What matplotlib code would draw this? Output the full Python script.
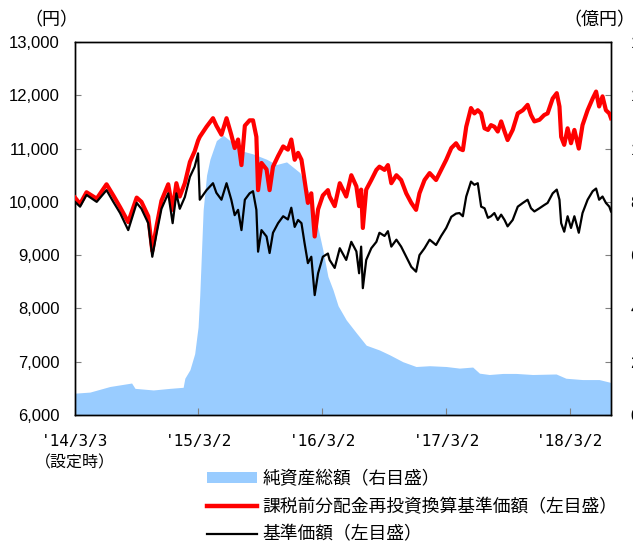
import numpy as np
import pandas as pd
import matplotlib
matplotlib.use('Agg')
import matplotlib.pyplot as plt
from matplotlib.patches import Patch
from matplotlib.lines import Line2D

plt.rcParams['font.family'] = ['Noto Sans CJK JP', 'DejaVu Sans']

# ---------------- data ----------------
launch = '2014-03-03'

# elapsed days since launch for the price series
nav_days = [0, 15, 34, 64, 93, 113, 133, 157, 182, 196, 216, 228, 241, 255, 275, 288, 299, 309, 324, 339, 353, 363,
            368, 388, 407, 417, 432, 447, 461, 471, 481, 491, 501, 515, 525, 535, 540, 550, 565, 574, 584, 599, 614,
            628, 638, 648, 658, 668, 677, 687, 697, 707, 717, 731, 746,
            751, 766, 781, 800, 815, 830, 838, 844, 849, 859, 874, 889, 898, 913, 923, 933, 948, 962, 977, 992, 1006,
            1016, 1031, 1046, 1065, 1080, 1095, 1110, 1124,
            1134, 1144, 1154, 1168, 1178, 1188, 1198, 1208, 1218, 1227, 1237, 1247, 1257, 1267, 1276, 1291, 1306, 1321,
            1335, 1345, 1355, 1370, 1384, 1394, 1409, 1421, 1429, 1434, 1443, 1453, 1463, 1473, 1486, 1497, 1512, 1527,
            1537, 1546, 1556, 1566, 1576, 1581]

# 基準価額 (yen)
nav = [10000, 9910, 10130, 10000, 10220, 10000, 9790, 9470, 9980, 9870, 9600, 8970, 9420, 9870, 10160, 9600, 10160,
       9870, 10090, 10470, 10660, 10910,
       10040, 10220, 10350, 10170, 10040, 10350, 10040, 9750, 9850, 9470, 10040, 10160, 10200, 9850, 9065, 9470, 9350,
       9040, 9420, 9600, 9730, 9670, 9890, 9530, 9660, 9600, 9230, 8850, 8970, 8250, 8660, 8970, 9030,
       8910, 8760, 9130, 8910, 9250, 9070, 8660, 9160, 8380, 8910, 9130, 9250, 9420, 9360, 9450, 9160, 9290, 9160,
       8970, 8780, 8690, 9000, 9130, 9290, 9190, 9360, 9510, 9720, 9780,
       9790, 9730, 10100, 10380, 10320, 10350, 9910, 9880, 9700, 9730, 9790, 9660, 9760, 9660, 9540, 9660, 9910, 9980,
       10040, 9880, 9820, 9880, 9940, 9980, 10160, 10230, 10040, 9600, 9440, 9730, 9510, 9730, 9420, 9790, 10040,
       10200, 10250, 10040, 10100, 9980, 9910, 9820]

# 課税前分配金再投資換算基準価額 (yen)
reinv = [10080, 9960, 10180, 10060, 10330, 10120, 9900, 9620, 10080, 10000, 9730, 9080, 9560, 10020, 10330, 9850,
         10350, 10100, 10350, 10750, 10950, 11150,
         11220, 11410, 11570, 11430, 11260, 11570, 11260, 11010, 11170, 10690, 11430, 11530, 11530, 11220, 10220,
         10730, 10610, 10220, 10660, 10860, 11040, 10980, 11170, 10790, 10920, 10790, 10410, 9980, 10160, 9350, 9860,
         10120, 10220,
         10100, 9920, 10350, 10100, 10500, 10290, 9920, 10230, 9510, 10230, 10410, 10600, 10660, 10600, 10690, 10350,
         10500, 10410, 10160, 9980, 9850, 10160, 10410, 10540, 10410, 10600, 10790, 11010, 11100,
         11000, 10970, 11410, 11760, 11660, 11720, 11660, 11380, 11350, 11440, 11410, 11320, 11510, 11320, 11160,
         11350, 11660, 11720, 11820, 11630, 11510, 11540, 11630, 11660, 11940, 12040, 11790, 11220, 11070, 11380,
         11100, 11350, 11000, 11440, 11720, 11940, 12070, 11790, 11980, 11720, 11660, 11570]

# 純資産総額 (億円)
aum_days = [0, 44, 103, 167, 177, 231, 280, 319, 324, 339, 353, 363, 368, 378, 388, 398, 417, 437, 457, 496, 525,
            565, 594, 624, 663, 692, 712, 731, 746, 761, 776, 800, 830, 859, 898, 928, 967, 1006, 1046, 1095, 1134,
            1173, 1193, 1222, 1262, 1301, 1350, 1419, 1448, 1497, 1546, 1581]
aum = [8.2, 8.6, 10.7, 12.0, 10.0, 9.4, 10.0, 10.4, 13.8, 17.0, 23.0, 33.0, 45.0, 77.0, 90.0, 96.0, 103.0, 105.0,
       103.0, 99.0, 98.0, 96.0, 94.0, 95.0, 91.0, 83.0, 73.0, 62.0, 52.0, 47.0, 41.0, 35.7, 30.8, 26.2, 24.4, 22.6,
       20.0, 18.2, 18.5, 18.2, 17.6, 18.0, 15.7, 15.2, 15.6, 15.6, 15.2, 15.4, 13.8, 13.3, 13.3, 12.2]

tick_dates = ['2014-03-03', '2015-03-02', '2016-03-02', '2017-03-02', '2018-03-02']
tick_labels = ["'14/3/3\n（設定時）", "'15/3/2", "'16/3/2", "'17/3/2", "'18/3/2"]
left_ticks = [6000, 7000, 8000, 9000, 10000, 11000, 12000, 13000]
right_ticks = [0, 20, 40, 60, 80, 100, 120, 140]

series_names = ['純資産総額（右目盛）', '課税前分配金再投資換算基準価額（左目盛）', '基準価額（左目盛）']

# ---------------- plot ----------------
t0 = pd.Timestamp(launch)
nav_dates = t0 + pd.to_timedelta(nav_days, unit='D')
aum_dates = t0 + pd.to_timedelta(aum_days, unit='D')

W, H = 633, 544
fig = plt.figure(figsize=(W / 100, H / 100), dpi=100)
ax = fig.add_axes([75 / W, 1 - 415 / H, (611 - 75) / W, (415 - 42) / H])
ax2 = ax.twinx()
ax.set_zorder(ax2.get_zorder() + 1)
ax.patch.set_visible(False)

blue = '#99CCFF'
ax2.fill_between(aum_dates, 0, aum, color=blue, lw=0)
ax.plot(nav_dates, reinv, color='#FF0000', lw=3.0, solid_joinstyle='round', zorder=3)
ax.plot(nav_dates, nav, color='black', lw=1.6, solid_joinstyle='round', zorder=4)

ax.set_xlim(nav_dates[0], nav_dates[-1])
ax.set_ylim(6000, 13000)
ax2.set_ylim(0, 140)

num_font = ['Liberation Sans', 'Noto Sans CJK JP']
ax.set_yticks(left_ticks)
ax.set_yticklabels([f'{v:,}' for v in left_ticks], fontsize=12, family=num_font)
ax2.set_yticks(right_ticks)
ax2.set_yticklabels([str(v) for v in right_ticks], fontsize=12, family=num_font)
ax.set_xticks(pd.to_datetime(tick_dates))
ax.set_xticklabels(tick_labels, fontsize=11.5, linespacing=1.45,
                   family=['DejaVu Sans Mono', 'Noto Sans CJK JP'])

ax.tick_params(axis='y', direction='in', length=4, width=0.8, color='#808080', pad=11)
ax2.tick_params(axis='y', direction='in', length=4, width=0.8, color='#808080', pad=14)
ax.tick_params(axis='x', direction='in', length=5, width=0.8, color='#808080', pad=14)
for a in (ax, ax2):
    for s in a.spines.values():
        s.set_color('black')
        s.set_linewidth(1.0)

fig.text(51 / W, 1 - 20 / H, '（円）', fontsize=13, ha='center', va='center')
fig.text(635 / W, 1 - 20 / H, '（億円）', fontsize=13, ha='right', va='center')

handles = [Patch(facecolor=blue, edgecolor='none'),
           Line2D([], [], color='#FF0000', lw=3.2),
           Line2D([], [], color='black', lw=1.6)]
fig.legend(handles, series_names, loc='upper left', bbox_to_anchor=(207 / W, 1 - 470 / H),
           frameon=False, fontsize=12.8, handlelength=2.8, handleheight=0.55, handletextpad=0.3,
           labelspacing=0.55, borderpad=0, borderaxespad=0)

fig.savefig('out.png', dpi=100)
